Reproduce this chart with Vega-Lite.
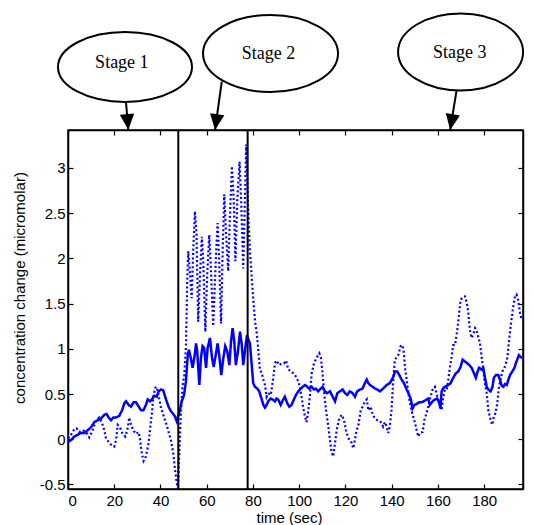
{
  "$schema": "https://vega.github.io/schema/vega-lite/v6.json",
  "autosize": "none",
  "padding": {"left": 68, "top": 130, "right": 10, "bottom": 36},
  "width": 455,
  "height": 359,
  "background": "white",
  "datasets": {
    "series": [
      {"s":"solid","t":0,"c":-0.03},{"s":"solid","t":1.3,"c":-0.01},{"s":"solid","t":2.7,"c":0.03},{"s":"solid","t":4.2,"c":0.05},{"s":"solid","t":5.6,"c":0.07},{"s":"solid","t":7.1,"c":0.07},{"s":"solid","t":8.5,"c":0.1},{"s":"solid","t":9.9,"c":0.13},{"s":"solid","t":11.4,"c":0.19},{"s":"solid","t":12.8,"c":0.21},{"s":"solid","t":14.3,"c":0.23},{"s":"solid","t":15.7,"c":0.27},{"s":"solid","t":16.7,"c":0.28},{"s":"solid","t":17.6,"c":0.24},{"s":"solid","t":18.6,"c":0.21},{"s":"solid","t":19.6,"c":0.24},{"s":"solid","t":20.8,"c":0.24},{"s":"solid","t":22.2,"c":0.26},{"s":"solid","t":23.4,"c":0.32},{"s":"solid","t":24.4,"c":0.4},{"s":"solid","t":25.1,"c":0.42},{"s":"solid","t":26.2,"c":0.38},{"s":"solid","t":27.2,"c":0.36},{"s":"solid","t":28.4,"c":0.41},{"s":"solid","t":29.4,"c":0.41},{"s":"solid","t":30.6,"c":0.36},{"s":"solid","t":31.6,"c":0.32},{"s":"solid","t":32.6,"c":0.32},{"s":"solid","t":33.7,"c":0.38},{"s":"solid","t":34.5,"c":0.44},{"s":"solid","t":35.5,"c":0.42},{"s":"solid","t":36.3,"c":0.44},{"s":"solid","t":37.3,"c":0.48},{"s":"solid","t":38.4,"c":0.47},{"s":"solid","t":39.2,"c":0.53},{"s":"solid","t":40.2,"c":0.55},{"s":"solid","t":41.2,"c":0.54},{"s":"solid","t":42.4,"c":0.44},{"s":"solid","t":43.5,"c":0.36},{"s":"solid","t":44.5,"c":0.31},{"s":"solid","t":45.5,"c":0.28},{"s":"solid","t":46.3,"c":0.25},{"s":"solid","t":47,"c":0.2},{"s":"solid","t":48.1,"c":0.29},{"s":"solid","t":49.2,"c":0.42},{"s":"solid","t":50.2,"c":0.49},{"s":"solid","t":51,"c":0.64},{"s":"solid","t":51.8,"c":0.93},{"s":"solid","t":52.3,"c":0.99},{"s":"solid","t":53.1,"c":0.9},{"s":"solid","t":53.9,"c":0.79},{"s":"solid","t":54.8,"c":0.93},{"s":"solid","t":55.4,"c":1.06},{"s":"solid","t":55.9,"c":0.97},{"s":"solid","t":56.8,"c":0.6},{"s":"solid","t":57.5,"c":0.9},{"s":"solid","t":58.2,"c":1.03},{"s":"solid","t":58.9,"c":1.01},{"s":"solid","t":59.7,"c":0.79},{"s":"solid","t":60.4,"c":1.01},{"s":"solid","t":61.4,"c":1.12},{"s":"solid","t":62.3,"c":0.9},{"s":"solid","t":63,"c":0.8},{"s":"solid","t":63.9,"c":0.93},{"s":"solid","t":64.7,"c":1.06},{"s":"solid","t":65.4,"c":0.93},{"s":"solid","t":66.3,"c":0.71},{"s":"solid","t":67.2,"c":0.9},{"s":"solid","t":68,"c":1.03},{"s":"solid","t":68.9,"c":0.97},{"s":"solid","t":69.8,"c":0.82},{"s":"solid","t":70.5,"c":1.08},{"s":"solid","t":71.2,"c":1.23},{"s":"solid","t":71.9,"c":1.08},{"s":"solid","t":72.6,"c":0.82},{"s":"solid","t":73.5,"c":0.97},{"s":"solid","t":74.4,"c":1.19},{"s":"solid","t":75.1,"c":1.06},{"s":"solid","t":75.8,"c":0.82},{"s":"solid","t":76.7,"c":1.01},{"s":"solid","t":77.4,"c":1.15},{"s":"solid","t":78.1,"c":1.1},{"s":"solid","t":78.7,"c":1.06},{"s":"solid","t":79.4,"c":0.84},{"s":"solid","t":80.1,"c":0.62},{"s":"solid","t":80.9,"c":0.58},{"s":"solid","t":81.9,"c":0.56},{"s":"solid","t":82.7,"c":0.53},{"s":"solid","t":83.8,"c":0.44},{"s":"solid","t":84.5,"c":0.38},{"s":"solid","t":85.2,"c":0.35},{"s":"solid","t":85.9,"c":0.38},{"s":"solid","t":86.6,"c":0.42},{"s":"solid","t":87.7,"c":0.45},{"s":"solid","t":88.5,"c":0.44},{"s":"solid","t":89.5,"c":0.42},{"s":"solid","t":90.2,"c":0.45},{"s":"solid","t":90.9,"c":0.44},{"s":"solid","t":92,"c":0.38},{"s":"solid","t":93.1,"c":0.44},{"s":"solid","t":93.8,"c":0.47},{"s":"solid","t":94.8,"c":0.4},{"s":"solid","t":95.7,"c":0.36},{"s":"solid","t":96.7,"c":0.38},{"s":"solid","t":97.7,"c":0.44},{"s":"solid","t":98.6,"c":0.49},{"s":"solid","t":99.6,"c":0.53},{"s":"solid","t":100.3,"c":0.55},{"s":"solid","t":101.5,"c":0.58},{"s":"solid","t":102.5,"c":0.6},{"s":"solid","t":103.5,"c":0.58},{"s":"solid","t":104.3,"c":0.56},{"s":"solid","t":105.4,"c":0.58},{"s":"solid","t":106.4,"c":0.55},{"s":"solid","t":107.2,"c":0.56},{"s":"solid","t":108.2,"c":0.53},{"s":"solid","t":109.3,"c":0.56},{"s":"solid","t":110.1,"c":0.58},{"s":"solid","t":111.1,"c":0.53},{"s":"solid","t":112.1,"c":0.51},{"s":"solid","t":113.3,"c":0.53},{"s":"solid","t":114.5,"c":0.47},{"s":"solid","t":115.5,"c":0.42},{"s":"solid","t":116.5,"c":0.51},{"s":"solid","t":117.6,"c":0.53},{"s":"solid","t":118.8,"c":0.55},{"s":"solid","t":119.8,"c":0.51},{"s":"solid","t":120.8,"c":0.49},{"s":"solid","t":121.9,"c":0.53},{"s":"solid","t":123.1,"c":0.51},{"s":"solid","t":124.1,"c":0.47},{"s":"solid","t":125.1,"c":0.53},{"s":"solid","t":126.3,"c":0.55},{"s":"solid","t":127.4,"c":0.56},{"s":"solid","t":128.4,"c":0.62},{"s":"solid","t":129.2,"c":0.66},{"s":"solid","t":129.9,"c":0.62},{"s":"solid","t":130.6,"c":0.6},{"s":"solid","t":131.8,"c":0.58},{"s":"solid","t":132.8,"c":0.56},{"s":"solid","t":133.8,"c":0.55},{"s":"solid","t":134.9,"c":0.53},{"s":"solid","t":136.3,"c":0.56},{"s":"solid","t":137.8,"c":0.6},{"s":"solid","t":139.2,"c":0.62},{"s":"solid","t":140.7,"c":0.69},{"s":"solid","t":141.4,"c":0.75},{"s":"solid","t":142.4,"c":0.75},{"s":"solid","t":143.3,"c":0.71},{"s":"solid","t":144.3,"c":0.66},{"s":"solid","t":145.3,"c":0.62},{"s":"solid","t":146.5,"c":0.55},{"s":"solid","t":147.6,"c":0.49},{"s":"solid","t":148.3,"c":0.44},{"s":"solid","t":149,"c":0.34},{"s":"solid","t":149.8,"c":0.38},{"s":"solid","t":150.8,"c":0.39},{"s":"solid","t":151.9,"c":0.41},{"s":"solid","t":152.9,"c":0.41},{"s":"solid","t":153.9,"c":0.42},{"s":"solid","t":155.1,"c":0.44},{"s":"solid","t":155.8,"c":0.45},{"s":"solid","t":156.5,"c":0.38},{"s":"solid","t":157.7,"c":0.42},{"s":"solid","t":158.7,"c":0.44},{"s":"solid","t":159.7,"c":0.45},{"s":"solid","t":160.6,"c":0.4},{"s":"solid","t":161.1,"c":0.34},{"s":"solid","t":161.6,"c":0.53},{"s":"solid","t":162.2,"c":0.56},{"s":"solid","t":163,"c":0.58},{"s":"solid","t":163.8,"c":0.59},{"s":"solid","t":164.5,"c":0.6},{"s":"solid","t":165.5,"c":0.62},{"s":"solid","t":166.6,"c":0.68},{"s":"solid","t":167.8,"c":0.73},{"s":"solid","t":168.8,"c":0.75},{"s":"solid","t":169.8,"c":0.8},{"s":"solid","t":170.7,"c":0.88},{"s":"solid","t":171.7,"c":0.86},{"s":"solid","t":172.7,"c":0.84},{"s":"solid","t":173.6,"c":0.82},{"s":"solid","t":174.6,"c":0.79},{"s":"solid","t":175.6,"c":0.73},{"s":"solid","t":176.4,"c":0.68},{"s":"solid","t":177.2,"c":0.75},{"s":"solid","t":177.8,"c":0.79},{"s":"solid","t":178.9,"c":0.77},{"s":"solid","t":179.6,"c":0.79},{"s":"solid","t":180.3,"c":0.69},{"s":"solid","t":181.1,"c":0.58},{"s":"solid","t":181.8,"c":0.55},{"s":"solid","t":182.8,"c":0.53},{"s":"solid","t":183.6,"c":0.58},{"s":"solid","t":184.2,"c":0.68},{"s":"solid","t":185.1,"c":0.71},{"s":"solid","t":186.1,"c":0.71},{"s":"solid","t":186.8,"c":0.66},{"s":"solid","t":187.6,"c":0.59},{"s":"solid","t":188.3,"c":0.58},{"s":"solid","t":189,"c":0.61},{"s":"solid","t":189.8,"c":0.6},{"s":"solid","t":190.5,"c":0.66},{"s":"solid","t":191.2,"c":0.71},{"s":"solid","t":192.2,"c":0.75},{"s":"solid","t":193.1,"c":0.79},{"s":"solid","t":193.7,"c":0.84},{"s":"solid","t":194.3,"c":0.88},{"s":"solid","t":195,"c":0.93},{"s":"solid","t":195.8,"c":0.91},{"s":"solid","t":196.5,"c":0.9},
      {"s":"dotted","t":0,"c":0.01},{"s":"dotted","t":1.3,"c":0.05},{"s":"dotted","t":2.7,"c":0.11},{"s":"dotted","t":3.7,"c":0.12},{"s":"dotted","t":4.9,"c":0.08},{"s":"dotted","t":6.3,"c":0.1},{"s":"dotted","t":7.8,"c":0.08},{"s":"dotted","t":9.2,"c":0.02},{"s":"dotted","t":10.7,"c":0.1},{"s":"dotted","t":12.1,"c":0.21},{"s":"dotted","t":13.5,"c":0.24},{"s":"dotted","t":14.7,"c":0.18},{"s":"dotted","t":15.7,"c":0.1},{"s":"dotted","t":16.4,"c":0.01},{"s":"dotted","t":17.6,"c":-0.03},{"s":"dotted","t":18.6,"c":-0.06},{"s":"dotted","t":20,"c":-0.08},{"s":"dotted","t":20.8,"c":-0.01},{"s":"dotted","t":21.5,"c":0.16},{"s":"dotted","t":22.5,"c":0.13},{"s":"dotted","t":23.6,"c":0.06},{"s":"dotted","t":24.8,"c":0.03},{"s":"dotted","t":25.8,"c":0.12},{"s":"dotted","t":26.5,"c":0.24},{"s":"dotted","t":27.2,"c":0.17},{"s":"dotted","t":28.2,"c":0.1},{"s":"dotted","t":29.4,"c":0.06},{"s":"dotted","t":30.5,"c":0.08},{"s":"dotted","t":31.1,"c":0.01},{"s":"dotted","t":31.9,"c":-0.155},{"s":"dotted","t":32.7,"c":-0.24},{"s":"dotted","t":33.7,"c":-0.19},{"s":"dotted","t":34.9,"c":-0.04},{"s":"dotted","t":35.6,"c":0.14},{"s":"dotted","t":36.3,"c":0.29},{"s":"dotted","t":36.9,"c":0.47},{"s":"dotted","t":37.8,"c":0.57},{"s":"dotted","t":38.4,"c":0.58},{"s":"dotted","t":39.2,"c":0.48},{"s":"dotted","t":40.2,"c":0.35},{"s":"dotted","t":41.6,"c":0.24},{"s":"dotted","t":43.1,"c":0.12},{"s":"dotted","t":44.5,"c":-0.01},{"s":"dotted","t":45.5,"c":-0.15},{"s":"dotted","t":46.4,"c":-0.36},{"s":"dotted","t":47.1,"c":-0.49},{"s":"dotted","t":47.6,"c":-0.55},{"s":"dotted","t":48.1,"c":-0.17},{"s":"dotted","t":48.9,"c":0.34},{"s":"dotted","t":49.6,"c":0.6},{"s":"dotted","t":50.3,"c":0.71},{"s":"dotted","t":51,"c":1.01},{"s":"dotted","t":51.6,"c":1.78},{"s":"dotted","t":52,"c":2.08},{"s":"dotted","t":52.8,"c":1.82},{"s":"dotted","t":53.5,"c":1.56},{"s":"dotted","t":54.2,"c":2.11},{"s":"dotted","t":54.9,"c":2.52},{"s":"dotted","t":55.6,"c":2.26},{"s":"dotted","t":56.3,"c":1.3},{"s":"dotted","t":57.1,"c":1.82},{"s":"dotted","t":57.9,"c":2.24},{"s":"dotted","t":58.5,"c":1.97},{"s":"dotted","t":59.4,"c":1.19},{"s":"dotted","t":60.2,"c":1.82},{"s":"dotted","t":61.1,"c":2.26},{"s":"dotted","t":61.8,"c":1.89},{"s":"dotted","t":62.8,"c":1.25},{"s":"dotted","t":63.9,"c":1.97},{"s":"dotted","t":64.7,"c":2.39},{"s":"dotted","t":65.4,"c":1.97},{"s":"dotted","t":66.2,"c":1.28},{"s":"dotted","t":66.9,"c":2.08},{"s":"dotted","t":67.6,"c":2.71},{"s":"dotted","t":68.3,"c":2.3},{"s":"dotted","t":69.3,"c":1.86},{"s":"dotted","t":70,"c":2.45},{"s":"dotted","t":70.9,"c":3.02},{"s":"dotted","t":71.7,"c":2.63},{"s":"dotted","t":72.4,"c":1.97},{"s":"dotted","t":73.2,"c":2.63},{"s":"dotted","t":74.2,"c":3.07},{"s":"dotted","t":74.9,"c":2.63},{"s":"dotted","t":75.8,"c":1.89},{"s":"dotted","t":76.5,"c":2.63},{"s":"dotted","t":77.1,"c":3.26},{"s":"dotted","t":77.8,"c":2.63},{"s":"dotted","t":78.7,"c":2.08},{"s":"dotted","t":79.9,"c":1.63},{"s":"dotted","t":80.9,"c":1.3},{"s":"dotted","t":81.6,"c":1.18},{"s":"dotted","t":82.3,"c":0.99},{"s":"dotted","t":83,"c":0.77},{"s":"dotted","t":83.8,"c":0.73},{"s":"dotted","t":84.5,"c":0.66},{"s":"dotted","t":85.2,"c":0.6},{"s":"dotted","t":85.9,"c":0.47},{"s":"dotted","t":86.6,"c":0.51},{"s":"dotted","t":87.7,"c":0.49},{"s":"dotted","t":88.8,"c":0.68},{"s":"dotted","t":89.5,"c":0.84},{"s":"dotted","t":90.2,"c":0.87},{"s":"dotted","t":91.4,"c":0.82},{"s":"dotted","t":92.4,"c":0.84},{"s":"dotted","t":93.4,"c":0.84},{"s":"dotted","t":94.3,"c":0.87},{"s":"dotted","t":95.3,"c":0.77},{"s":"dotted","t":96.7,"c":0.75},{"s":"dotted","t":98.2,"c":0.71},{"s":"dotted","t":99.6,"c":0.64},{"s":"dotted","t":100.3,"c":0.58},{"s":"dotted","t":101,"c":0.47},{"s":"dotted","t":101.8,"c":0.34},{"s":"dotted","t":102.5,"c":0.25},{"s":"dotted","t":103.2,"c":0.19},{"s":"dotted","t":103.9,"c":0.31},{"s":"dotted","t":104.6,"c":0.47},{"s":"dotted","t":105.4,"c":0.73},{"s":"dotted","t":106.4,"c":0.84},{"s":"dotted","t":107.5,"c":0.9},{"s":"dotted","t":108.7,"c":0.95},{"s":"dotted","t":109.4,"c":0.9},{"s":"dotted","t":110.1,"c":0.73},{"s":"dotted","t":110.8,"c":0.51},{"s":"dotted","t":111.6,"c":0.32},{"s":"dotted","t":112.6,"c":0.14},{"s":"dotted","t":113.3,"c":-0.01},{"s":"dotted","t":114,"c":-0.14},{"s":"dotted","t":114.7,"c":-0.19},{"s":"dotted","t":115.5,"c":-0.04},{"s":"dotted","t":116.2,"c":0.1},{"s":"dotted","t":117.3,"c":0.23},{"s":"dotted","t":118.4,"c":0.27},{"s":"dotted","t":119.4,"c":0.21},{"s":"dotted","t":120.2,"c":0.1},{"s":"dotted","t":121,"c":0.03},{"s":"dotted","t":121.7,"c":-0.01},{"s":"dotted","t":122.7,"c":-0.04},{"s":"dotted","t":123.4,"c":-0.1},{"s":"dotted","t":124.1,"c":-0.01},{"s":"dotted","t":124.8,"c":0.1},{"s":"dotted","t":125.5,"c":0.14},{"s":"dotted","t":126.6,"c":0.32},{"s":"dotted","t":127.4,"c":0.36},{"s":"dotted","t":128.1,"c":0.4},{"s":"dotted","t":129.2,"c":0.44},{"s":"dotted","t":129.9,"c":0.32},{"s":"dotted","t":130.9,"c":0.36},{"s":"dotted","t":131.8,"c":0.27},{"s":"dotted","t":132.8,"c":0.23},{"s":"dotted","t":133.8,"c":0.21},{"s":"dotted","t":135,"c":0.2},{"s":"dotted","t":135.7,"c":0.18},{"s":"dotted","t":136.3,"c":0.14},{"s":"dotted","t":137.1,"c":0.19},{"s":"dotted","t":137.8,"c":0.14},{"s":"dotted","t":138.5,"c":0.07},{"s":"dotted","t":139.2,"c":0.14},{"s":"dotted","t":139.9,"c":0.32},{"s":"dotted","t":140.7,"c":0.66},{"s":"dotted","t":141.4,"c":0.88},{"s":"dotted","t":142.8,"c":0.93},{"s":"dotted","t":143.9,"c":1.03},{"s":"dotted","t":144.7,"c":1.04},{"s":"dotted","t":145.3,"c":0.95},{"s":"dotted","t":145.7,"c":0.8},{"s":"dotted","t":146.5,"c":0.66},{"s":"dotted","t":147.2,"c":0.51},{"s":"dotted","t":147.9,"c":0.4},{"s":"dotted","t":148.6,"c":0.32},{"s":"dotted","t":149.3,"c":0.25},{"s":"dotted","t":150.1,"c":0.18},{"s":"dotted","t":150.8,"c":0.1},{"s":"dotted","t":151.5,"c":0.03},{"s":"dotted","t":152.2,"c":0.07},{"s":"dotted","t":153.4,"c":0.08},{"s":"dotted","t":154.1,"c":0.21},{"s":"dotted","t":155.1,"c":0.29},{"s":"dotted","t":155.8,"c":0.36},{"s":"dotted","t":156.5,"c":0.44},{"s":"dotted","t":157.7,"c":0.55},{"s":"dotted","t":158.7,"c":0.58},{"s":"dotted","t":159.4,"c":0.51},{"s":"dotted","t":160.1,"c":0.44},{"s":"dotted","t":160.9,"c":0.4},{"s":"dotted","t":161.6,"c":0.32},{"s":"dotted","t":162.3,"c":0.47},{"s":"dotted","t":163,"c":0.55},{"s":"dotted","t":163.8,"c":0.55},{"s":"dotted","t":164.5,"c":0.66},{"s":"dotted","t":165.2,"c":0.8},{"s":"dotted","t":165.9,"c":0.91},{"s":"dotted","t":166.6,"c":1.04},{"s":"dotted","t":167.4,"c":1.04},{"s":"dotted","t":168.4,"c":1.21},{"s":"dotted","t":169.2,"c":1.4},{"s":"dotted","t":169.8,"c":1.54},{"s":"dotted","t":170.7,"c":1.57},{"s":"dotted","t":171.7,"c":1.58},{"s":"dotted","t":172.4,"c":1.52},{"s":"dotted","t":173.1,"c":1.41},{"s":"dotted","t":173.8,"c":1.21},{"s":"dotted","t":174.6,"c":1.12},{"s":"dotted","t":175.3,"c":1.16},{"s":"dotted","t":176.1,"c":1.23},{"s":"dotted","t":176.7,"c":1.21},{"s":"dotted","t":177.4,"c":1.14},{"s":"dotted","t":178.2,"c":1.06},{"s":"dotted","t":178.9,"c":0.91},{"s":"dotted","t":179.6,"c":0.77},{"s":"dotted","t":180.3,"c":0.62},{"s":"dotted","t":181.1,"c":0.51},{"s":"dotted","t":181.8,"c":0.32},{"s":"dotted","t":182.8,"c":0.21},{"s":"dotted","t":183.5,"c":0.16},{"s":"dotted","t":184.2,"c":0.25},{"s":"dotted","t":184.9,"c":0.29},{"s":"dotted","t":185.7,"c":0.4},{"s":"dotted","t":186.4,"c":0.58},{"s":"dotted","t":187.1,"c":0.66},{"s":"dotted","t":187.8,"c":0.75},{"s":"dotted","t":188.5,"c":0.77},{"s":"dotted","t":189.4,"c":0.84},{"s":"dotted","t":190.1,"c":0.91},{"s":"dotted","t":190.8,"c":1.1},{"s":"dotted","t":191.6,"c":1.28},{"s":"dotted","t":192.6,"c":1.47},{"s":"dotted","t":193.3,"c":1.58},{"s":"dotted","t":194,"c":1.6},{"s":"dotted","t":194.7,"c":1.54},{"s":"dotted","t":195.5,"c":1.4},{"s":"dotted","t":196.2,"c":1.32}
    ],
    "boundaries": [{"t": 47.7}, {"t": 77.7}],
    "stages": [
      {"stage": "Stage 1", "cx": 24.65, "cy": 4.117, "tx": 23.3, "ty": 4.103, "ax": 25.1, "ay": 3.72, "hx": 26.1, "hy": 3.42},
      {"stage": "Stage 2", "cx": 87.6, "cy": 4.266, "tx": 86.7, "ty": 4.202, "ax": 66.5, "ay": 3.955, "hx": 63.6, "hy": 3.42},
      {"stage": "Stage 3", "cx": 169.8, "cy": 4.283, "tx": 169.4, "ty": 4.213, "ax": 168.1, "ay": 3.863, "hx": 165.3, "hy": 3.42}
    ]
  },
  "layer": [
    {
      "data": {"name": "series"},
      "mark": {"type": "line", "clip": true, "color": "#0000ff"},
      "encoding": {
        "x": {"field": "t", "type": "quantitative", "scale": {"domain": [0, 196.8], "nice": false, "zero": false},
              "axis": {"orient": "bottom", "values": [0,20,40,60,80,100,120,140,160,180], "title": "time (sec)", "labelPadding": 9, "titlePadding": 2, "titleX": 221}},
        "y": {"field": "c", "type": "quantitative", "scale": {"domain": [-0.55, 3.42], "nice": false, "zero": false},
              "axis": {"orient": "left", "values": [-0.5,0,0.5,1,1.5,2,2.5,3], "labelExpr": "'' + datum.value", "title": "concentration change (micromolar)", "labelPadding": 8, "titleX": -43.7, "titleY": 157.5, "titleBaseline": "alphabetic", "titleAngle": -90}},
        "detail": {"field": "s", "type": "nominal"},
        "strokeDash": {"field": "s", "type": "nominal", "scale": {"domain": ["solid", "dotted"], "range": [[1, 0], [2, 2.4]]}, "legend": null},
        "strokeWidth": {"field": "s", "type": "nominal", "scale": {"type": "ordinal", "domain": ["solid", "dotted"], "range": [2.5, 2.2]}, "legend": null}
      }
    },
    {
      "data": {"name": "boundaries"},
      "mark": {"type": "rule", "color": "black", "strokeWidth": 2},
      "encoding": {"x": {"field": "t", "type": "quantitative", "axis": null}}
    },
    {
      "data": {"name": "stages"},
      "mark": {"type": "rule", "color": "black", "strokeWidth": 2},
      "encoding": {
        "x": {"field": "ax", "type": "quantitative", "axis": null},
        "y": {"field": "ay", "type": "quantitative", "axis": null},
        "x2": {"field": "hx"},
        "y2": {"field": "hy"}
      }
    },
    {
      "data": {"name": "stages"},
      "mark": {"type": "point", "filled": true, "color": "black", "opacity": 1, "shape": "M -0.45 -1 L 0.45 -1 L 0 0 Z", "size": 1024},
      "encoding": {
        "x": {"field": "hx", "type": "quantitative", "axis": null},
        "y": {"field": "hy", "type": "quantitative", "axis": null},
        "angle": {"field": "stage", "type": "nominal", "scale": {"type": "ordinal", "domain": ["Stage 1", "Stage 2", "Stage 3"], "range": [-4.8, 7.9, 9.5]}, "legend": null}
      }
    },
    {
      "data": {"name": "stages"},
      "mark": {"type": "point", "filled": true, "fill": "white", "stroke": "black", "strokeWidth": 2, "opacity": 1},
      "encoding": {
        "x": {"field": "cx", "type": "quantitative", "axis": {"orient": "top", "values": [0,20,40,60,80,100,120,140,160,180], "labels": false, "title": null}},
        "y": {"field": "cy", "type": "quantitative", "axis": {"orient": "right", "values": [-0.5,0,0.5,1,1.5,2,2.5,3], "labels": false, "title": null}},
        "shape": {"field": "stage", "type": "nominal", "scale": {"domain": ["Stage 1", "Stage 2", "Stage 3"], "range": ["M -1 0 A 1 0.522 0 1 1 1 0 A 1 0.522 0 1 1 -1 0 Z", "M -1 0 A 1 0.57 0 1 1 1 0 A 1 0.57 0 1 1 -1 0 Z", "M -1 0 A 1 0.616 0 1 1 1 0 A 1 0.616 0 1 1 -1 0 Z"]}, "legend": null},
        "size": {"field": "stage", "type": "nominal", "scale": {"type": "ordinal", "domain": ["Stage 1", "Stage 2", "Stage 3"], "range": [17956, 18225, 15625]}, "legend": null}
      }
    },
    {
      "data": {"name": "stages"},
      "mark": {"type": "text", "font": "Liberation Serif", "fontSize": 18, "align": "center", "baseline": "alphabetic", "color": "black"},
      "encoding": {
        "x": {"field": "tx", "type": "quantitative", "axis": null},
        "y": {"field": "ty", "type": "quantitative", "axis": null},
        "text": {"field": "stage", "type": "nominal"}
      }
    }
  ],
  "resolve": {"axis": {"x": "independent", "y": "independent"}},
  "config": {
    "view": {"stroke": "black", "strokeWidth": 1.5},
    "axis": {
      "grid": false,
      "domainColor": "black",
      "domainWidth": 1.5,
      "tickColor": "black",
      "tickWidth": 1.2,
      "tickSize": -5,
      "labelFont": "Liberation Sans",
      "labelFontSize": 15,
      "labelColor": "black",
      "titleFont": "Liberation Sans",
      "titleFontSize": 15,
      "titleFontWeight": "normal",
      "titleColor": "black"
    }
  }
}
